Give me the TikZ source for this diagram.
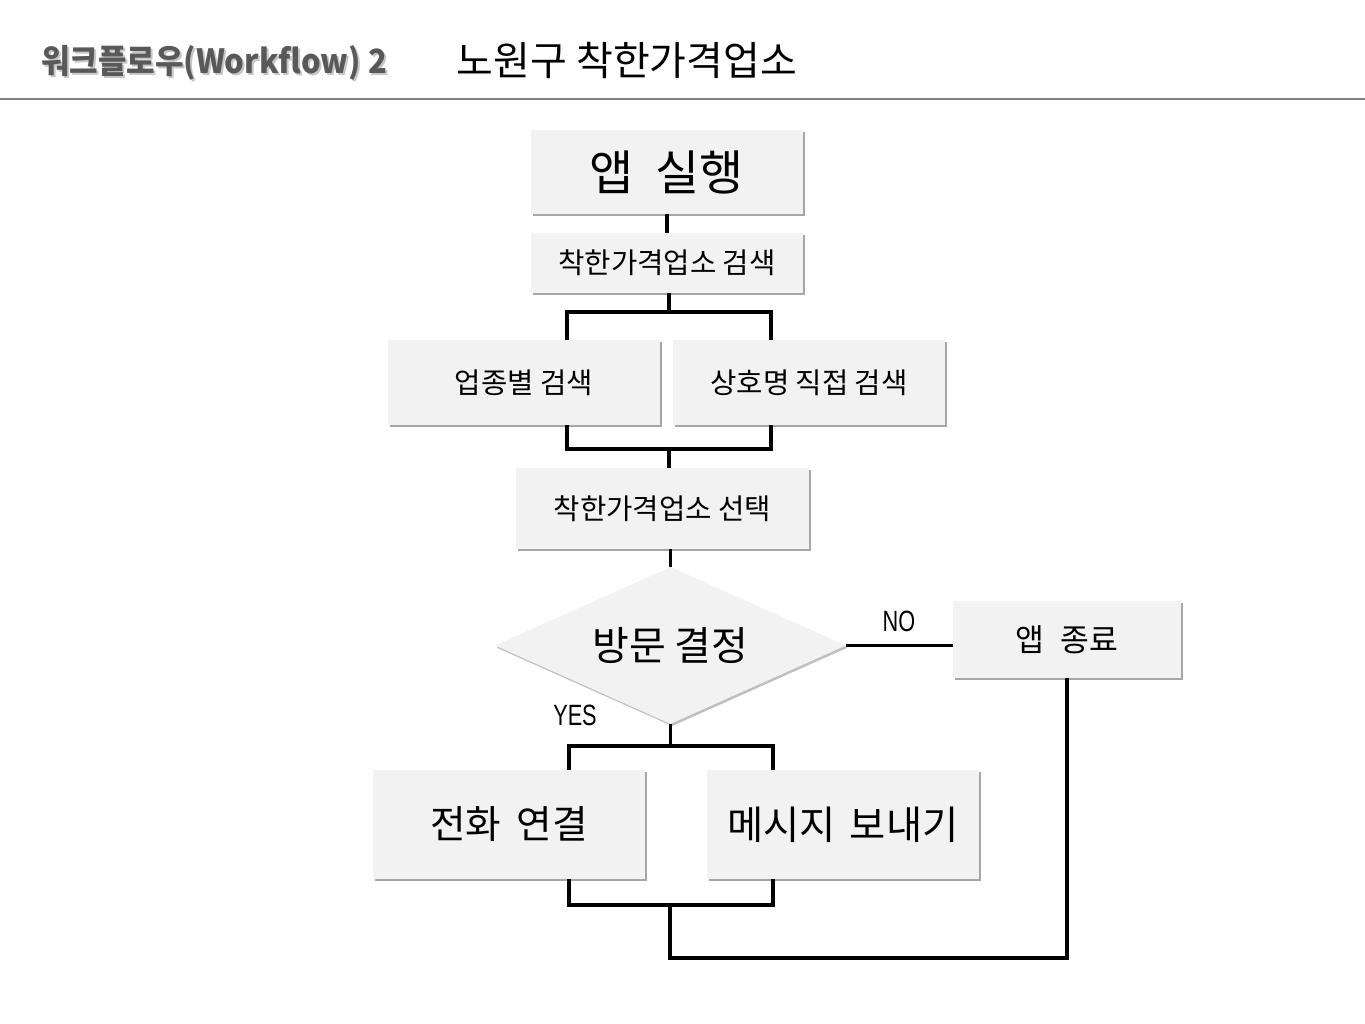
\documentclass[tikz,border=0pt]{standalone}
\usepackage{fontspec}
\setmainfont{Noto Sans CJK KR}
\newfontfamily\titlefont{Noto Sans CJK KR}[FakeStretch=0.93]
\newfontfamily\labelfont{Liberation Sans}[FakeStretch=0.74]
\usetikzlibrary{shapes.geometric,shadows}
\definecolor{boxfill}{HTML}{F2F2F2}
\definecolor{titlegray}{HTML}{595959}
\tikzset{
  box/.style={rectangle, fill=boxfill, inner sep=0pt, align=center,
    drop shadow={shadow xshift=1.2pt, shadow yshift=-1.6pt, fill=black, opacity=0.35}},
  decision/.style={diamond, aspect=2.24, fill=boxfill, inner sep=0pt, align=center,
    drop shadow={shadow xshift=1.2pt, shadow yshift=-1.6pt, fill=black, opacity=0.25}},
  conn/.style={line width=2.5pt, line join=miter},
  yesno/.style={inner sep=0pt, font=\labelfont\fontsize{22}{24}\selectfont},
  midtxt/.style={font=\fontsize{21.5}{23}\selectfont}
}
\begin{document}
\begin{tikzpicture}[x=0.75pt, y=-0.75pt]
\useasboundingbox (0,0) rectangle (1365,1024);
\fill[white] (0,0) rectangle (1365,1024);

% header
\node[inner sep=0pt, text=black!22] (tshadow) at (216,64.5) {\titlefont\bfseries\fontsize{25}{28}\selectfont 워크플로우(Workflow) 2};
\node[inner sep=0pt, text=titlegray] (t1) at (214,63) {\titlefont\bfseries\fontsize{25}{28}\selectfont 워크플로우(Workflow) 2};
\node[inner sep=0pt] (t2) at (627,60) {\fontsize{30}{32}\selectfont 노원구 착한가격업소};
\coordinate (hl) at (0,99);
\coordinate (hr) at (1365,99);
\draw[black!50, line width=0.9pt] (hl) -- (hr);

% boxes
\node[box, minimum width=204pt, minimum height=63pt] (b1) at (667,172)
  {\fontsize{36}{38}\selectfont 앱\hspace{0.45em}실행};
\node[box, midtxt, minimum width=204pt, minimum height=45pt] (b2) at (667,263)
  {착한가격업소 검색};
\node[box, midtxt, minimum width=204pt, minimum height=63.75pt] (b3) at (524,382.5)
  {업종별 검색};
\node[box, midtxt, minimum width=204pt, minimum height=63.75pt] (b4) at (809,382.5)
  {\raisebox{2pt}{상호명 직접 검색}};
\node[box, midtxt, minimum width=219.75pt, minimum height=60.75pt] (b5) at (662.5,508.5)
  {착한가격업소 선택};
\node[decision, minimum width=263.25pt, minimum height=117.75pt] (d) at (670.5,645.5)
  {\fontsize{30}{32}\selectfont 방문 결정};
\node[box, minimum width=171pt, minimum height=57.75pt] (e) at (1067,639.5)
  {\fontsize{23.5}{25}\selectfont 앱\hspace{0.5em}종료};
\node[box, minimum width=204pt, minimum height=81.75pt] (b8) at (509,824.5)
  {\fontsize{29}{31}\selectfont 전화\hspace{0.4em}연결};
\node[box, minimum width=204pt, minimum height=81.75pt] (b9) at (843,824.5)
  {\raisebox{-1.2pt}{\fontsize{29.5}{31}\selectfont 메시지\hspace{0.35em}보내기}};

% labels
\node[yesno] (no) at (899,621) {NO};
\node[yesno] (yes) at (575,715) {YES};

% connectors
\draw[conn] (b1.south) -- (b2.north);

\coordinate (f1) at (669,312);
\coordinate (f3) at (567,312);
\coordinate (f4) at (771,312);
\draw[conn] (b2.south -| f1) -- (f1);
\draw[conn] (f3 |- b3.north) -- (f3) -- (f4) -- (f4 |- b4.north);

\coordinate (j3) at (567,449);
\coordinate (j4) at (771,449);
\coordinate (m1) at (669,449);
\draw[conn] (j3 |- b3.south) -- (j3) -- (j4) -- (j4 |- b4.south);
\draw[conn] (m1) -- (m1 |- b5.north);

\draw[conn] (b5.south -| d.north) -- (d.north);
\draw[conn] (d.east) -- (d.east -| e.west);

\coordinate (y1) at (569,746);
\coordinate (y2) at (773,746);
\draw[conn] (d.south) -- (d.south |- y1);
\draw[conn] (y1 |- b8.north) -- (y1) -- (y2) -- (y2 |- b9.north);

\coordinate (z1) at (569,905);
\coordinate (z2) at (773,905);
\coordinate (z3) at (670,905);
\coordinate (z4) at (670,958);
\draw[conn] (z1 |- b8.south) -- (z1) -- (z2) -- (z2 |- b9.south);
\draw[conn] (z3) -- (z4) -| (e.south);
\end{tikzpicture}
\end{document}
